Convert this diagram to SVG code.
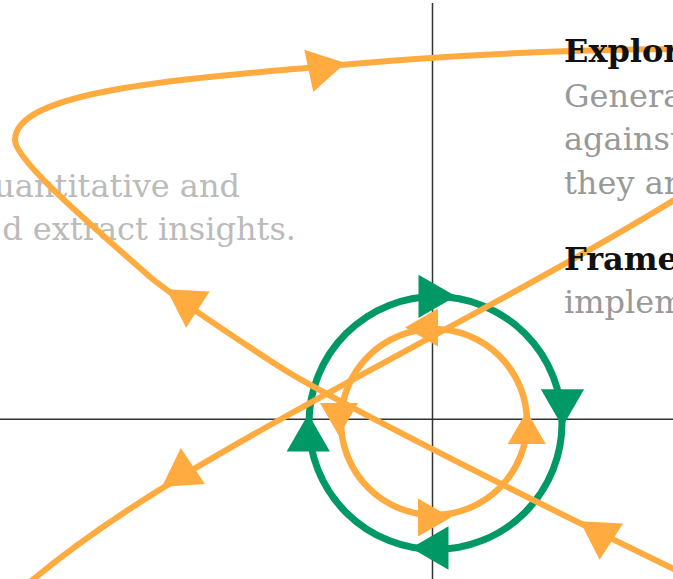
<svg xmlns="http://www.w3.org/2000/svg" width="673" height="579" viewBox="0 0 673 579">
  <style>
    .axis { stroke: #333; stroke-width: 1.5; fill: none; }
    .flow { fill: none; stroke: #ffab40; stroke-width: 6; }
    .orbit-o { fill: none; stroke: #ffab40; stroke-width: 6.5; }
    .orbit-g { fill: none; stroke: #009966; stroke-width: 7; }
    .ah-o { fill: #ffab40; }
    .ah-g { fill: #009966; }
    .txt { font-family: "DejaVu Serif", "Liberation Serif", serif; font-size: 32px; }
    .faint { fill: #bbb; }
    .head { fill: #111; font-weight: bold; }
    .body { fill: #999; }
  </style>
  <defs>
    <!-- equilateral arrowheads pointing along +x, centred on the centroid -->
    <path id="tri" d="M25,0 L-12.5,-21.65 L-12.5,21.65 Z"/>
    <path id="tri-s" d="M22,0 L-11,-19.05 L-11,19.05 Z"/>
  </defs>

  <!-- coordinate axes -->
  <g id="axes">
    <line class="axis" x1="0" y1="419.25" x2="673" y2="419.25"/>
    <line class="axis" x1="432.5" y1="3" x2="432.5" y2="579"/>
  </g>

  <!-- faded annotation on the left -->
  <g id="note-left" class="txt faint" text-anchor="end">
    <text x="240" y="197">uantitative and</text>
    <text x="296" y="240">d extract insights.</text>
  </g>

  <!-- outer clockwise orbit -->
  <g id="orbit-outer">
    <circle class="orbit-g" cx="435.5" cy="423" r="126.5"/>
    <use href="#tri" class="ah-g" transform="translate(431,296.3) rotate(0)"/>
    <use href="#tri" class="ah-g" transform="translate(562.5,401.8) rotate(90)"/>
    <use href="#tri" class="ah-g" transform="translate(436,548) rotate(180)"/>
    <use href="#tri" class="ah-g" transform="translate(308.3,439) rotate(270)"/>
  </g>

  <!-- inner counter-clockwise orbit -->
  <g id="orbit-inner">
    <circle class="orbit-o" cx="434" cy="422" r="93"/>
    <use href="#tri-s" class="ah-o" transform="translate(427,327.5) rotate(180)"/>
    <use href="#tri-s" class="ah-o" transform="translate(526.7,433) rotate(270)"/>
    <use href="#tri-s" class="ah-o" transform="translate(429,517.5) rotate(0)"/>
    <use href="#tri-s" class="ah-o" transform="translate(339,414) rotate(90)"/>
  </g>

  <!-- trajectories -->
  <g id="connectors">
    <path class="flow" d="M30,582 C90,532 160,486 290,414 C420,342 560,270 676,199"/>
    <path class="flow" d="M676,49 C560,50 440,56 340,65 C200,78 15,88 15,140 C15,160 90,224 150,277 C190,309 240,341 280,367 C320,393 500,485 676,570"/>
    <use href="#tri" class="ah-o" transform="translate(321,68.3) rotate(-12)"/>
    <use href="#tri" class="ah-o" transform="translate(182.5,473) rotate(146)"/>
    <use href="#tri" class="ah-o" transform="translate(187.4,302.8) rotate(213)"/>
    <use href="#tri" class="ah-o" transform="translate(600.9,534.9) rotate(213)"/>
  </g>

  <!-- legend on the right -->
  <g id="legend" class="txt">
    <text class="head" x="564" y="62">Explor</text>
    <text class="body" x="564" y="106.5">Genera</text>
    <text class="body" x="564" y="150">against</text>
    <text class="body" x="564" y="193.5">they ar</text>
    <text class="head" x="564" y="270">Frame</text>
    <text class="body" x="564" y="313">implem</text>
  </g>
</svg>
